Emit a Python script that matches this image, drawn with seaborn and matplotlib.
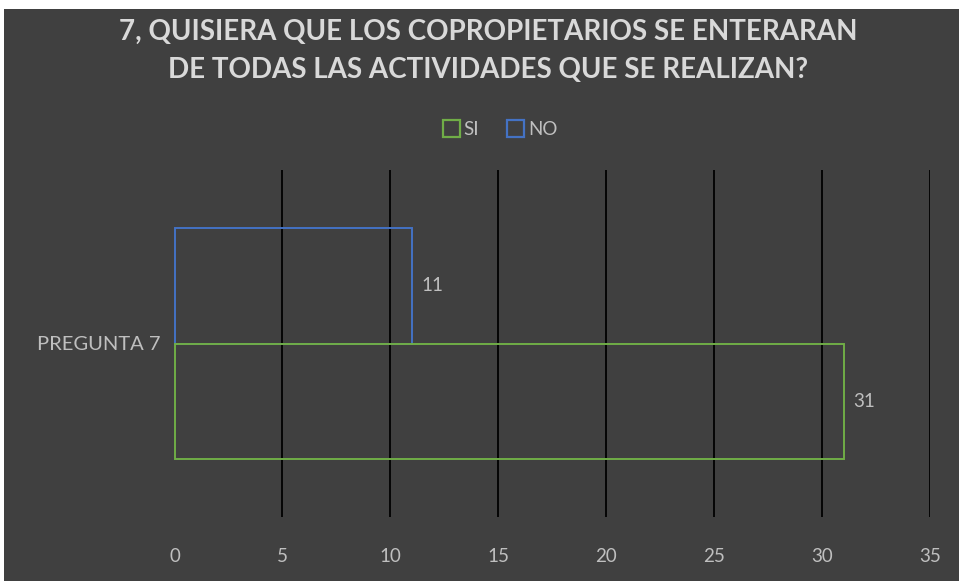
import matplotlib
matplotlib.use("Agg")
import matplotlib.pyplot as plt
import seaborn as sns
import pandas as pd
from matplotlib.patches import Rectangle, Patch

categories = ["PREGUNTA 7"]
series_names = ["SI", "NO"]
si_values = [31]
no_values = [11]
x_ticks = [0, 5, 10, 15, 20, 25, 30, 35]
title = "7, QUISIERA QUE LOS COPROPIETARIOS SE ENTERARAN\nDE TODAS LAS ACTIVIDADES QUE SE REALIZAN?"

colors = {"SI": "#70AD47", "NO": "#4472C4"}
bg = "#404040"
txt = "#BFBFBF"

rows = []
for i, c in enumerate(categories):
    rows.append({"cat": c, "resp": "SI", "val": si_values[i]})
    rows.append({"cat": c, "resp": "NO", "val": no_values[i]})
df = pd.DataFrame(rows)

sns.set_theme(style="white")
plt.rcParams["font.family"] = ["Lato", "DejaVu Sans"]

fig = plt.figure(figsize=(9.59, 5.81), dpi=100, facecolor=bg)
ax = fig.add_axes([174.5 / 959, 64 / 581, 755.5 / 959, 347 / 581])
ax.set_facecolor(bg)

hue_order = ["NO", "SI"]
sns.barplot(data=df, x="val", y="cat", hue="resp", hue_order=hue_order,
            orient="h", width=0.663, ax=ax, legend=False,
            palette=colors, saturation=1)

for container, name in zip(ax.containers, hue_order):
    for bar in container:
        bar.set_facecolor("none")
        bar.set_edgecolor(colors[name])
        bar.set_linewidth(1.4)
        bar.set_clip_on(False)
        bar.set_zorder(3)
    ax.bar_label(container, padding=7, color=txt, fontsize=13.5)

ax.set_xlim(0, 35)
ax.set_ylim(0.5, -0.5)
ax.set_xticks(x_ticks)
ax.set_xticklabels([str(t) for t in x_ticks])
ax.grid(axis="x", color="black", linewidth=1.3)
ax.grid(axis="y", visible=False)
ax.xaxis.get_gridlines()[0].set_visible(False)
ax.set_axisbelow(True)
for s in ax.spines.values():
    s.set_visible(False)
ax.tick_params(axis="x", length=0, pad=22, colors=txt, labelsize=13.5)
ax.tick_params(axis="y", length=0, pad=10, colors=txt, labelsize=14.5)
ax.set_xlabel("")
ax.set_ylabel("")

fig.text(488 / 959, 1 - 51 / 581, title, ha="center", va="center",
         color="#D9D9D9", fontsize=20, fontweight="bold", linespacing=1.6)

handles = [Patch(facecolor="none", edgecolor=colors[n], linewidth=1.6, label=n)
           for n in series_names]
fig.legend(handles=handles, loc="center", bbox_to_anchor=(500 / 959, 1 - 129 / 581),
           ncol=2, frameon=False, labelcolor=txt, fontsize=13.5,
           handlelength=0.9, handleheight=1.0, handletextpad=0.2, columnspacing=1.5)

fig.patches.append(Rectangle((0, 1 - 9 / 581), 1, 9 / 581, transform=fig.transFigure,
                             facecolor="white", edgecolor="none", zorder=-1))
fig.patches.append(Rectangle((0, 0), 4 / 959, 1, transform=fig.transFigure,
                             facecolor="white", edgecolor="none", zorder=-1))

fig.savefig("out.png", dpi=100, facecolor=bg)
